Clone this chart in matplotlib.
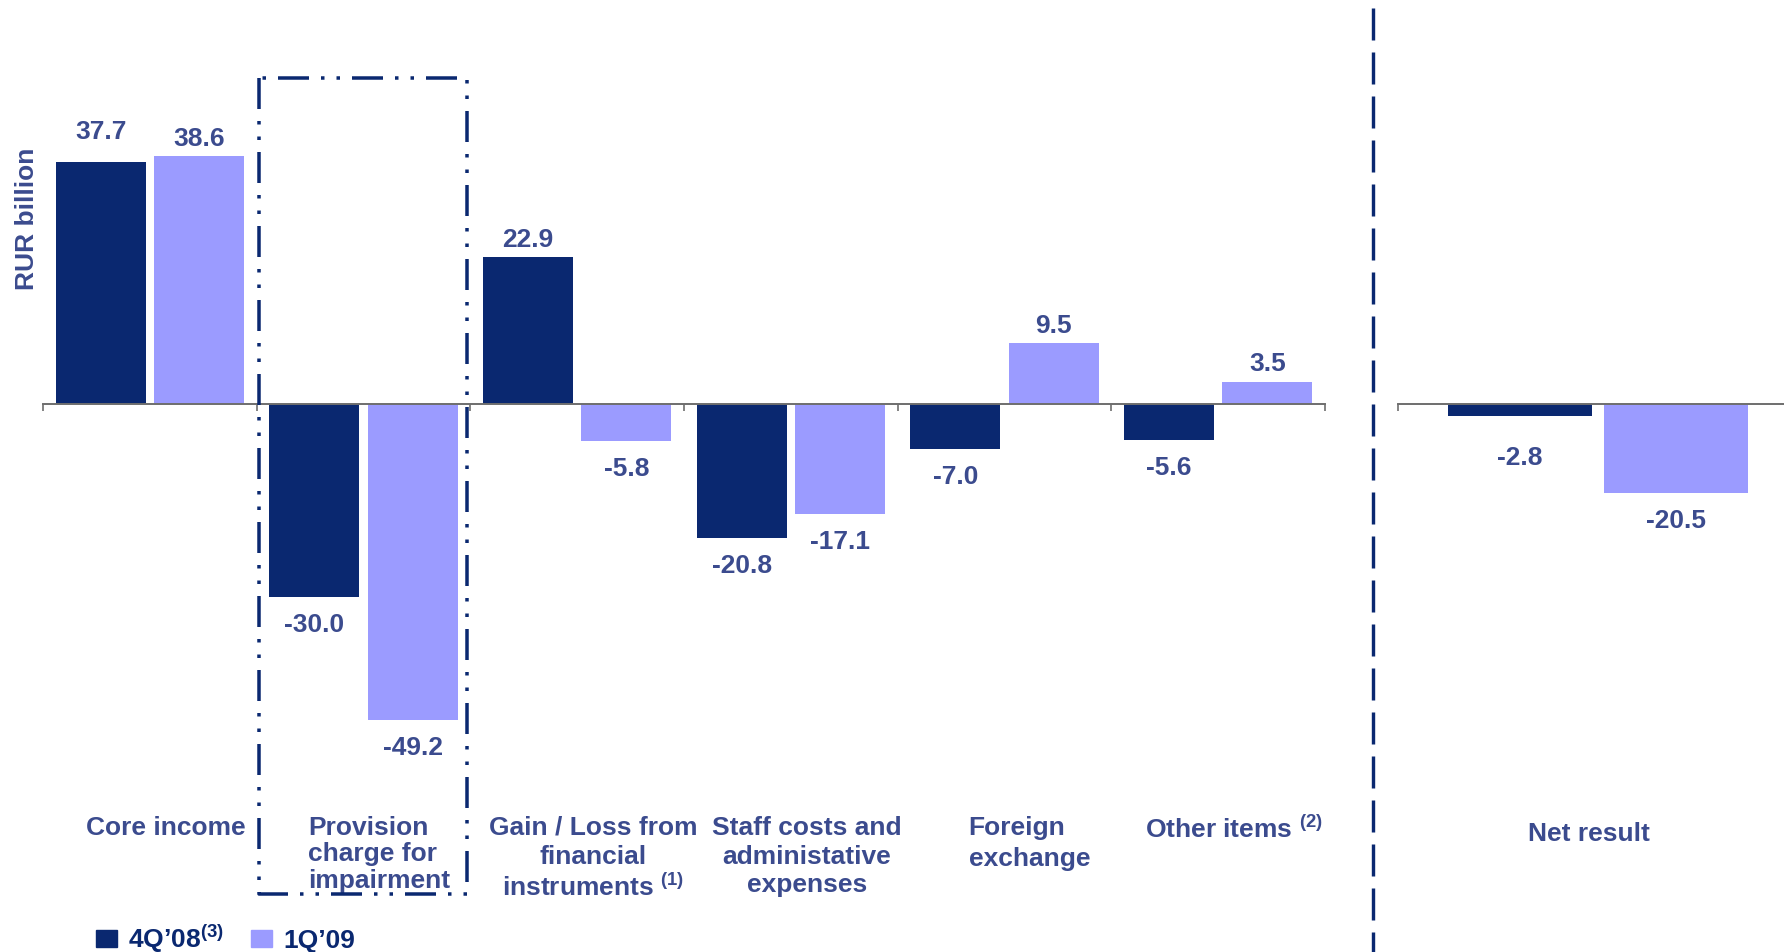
import matplotlib
matplotlib.use("Agg")
import matplotlib.pyplot as plt
from matplotlib.lines import Line2D
from matplotlib.patches import Rectangle

# ---- data ----
categories = ['Core income',
              'Provision\ncharge for\nimpairment',
              'Gain / Loss from\nfinancial\ninstruments $^{(1)}$',
              'Staff costs and\nadministative\nexpenses',
              'Foreign\nexchange',
              'Other items $^{(2)}$']
q4_08 = [37.7, -30.0, 22.9, -20.8, -7.0, -5.6]
q1_09 = [38.6, -49.2, -5.8, -17.1, 9.5, 3.5]
net_category = ['Net result']
net_q4_08 = [-2.8]
net_q1_09 = [-20.5]
series_names = ['4Q\u201908$^{(3)}$', '1Q\u201909']
y_label = 'RUR billion'

# ---- style ----
plt.rcParams['font.family'] = ['Liberation Sans', 'DejaVu Sans']
plt.rcParams['font.weight'] = 'bold'
plt.rcParams['mathtext.fontset'] = 'custom'
plt.rcParams['mathtext.rm'] = 'Liberation Sans:bold'
plt.rcParams['mathtext.it'] = 'Liberation Sans:bold'
plt.rcParams['mathtext.bf'] = 'Liberation Sans:bold'
plt.rcParams['lines.scale_dashes'] = False

DARK = '#0A2870'
LIGHT = '#9B9BFF'
TXT = '#3B4B8E'
AXC = '#6E6E6E'
FS = 19

# label layout tweaks (points): extra vertical nudge for some value labels
label_nudge = {('main', 0, 0): 9, ('net', 0, 0): -10}
# per-category label layout: (multialignment, x offset pt, linespacing)
cat_layout = [('center', 11.5, 1.2), ('left', 11.5, 1.13), ('center', 11.5, 1.24),
              ('center', 11.5, 1.24), ('left', 18, 1.36), ('center', 11.5, 1.2)]

W, H = 1784, 953
fig = plt.figure(figsize=(W / 100, H / 100), dpi=100)

def fx(px):
    return px / W

def fy(py):
    return 1 - py / H

zero_px = 405

# main axes
ax = fig.add_axes([fx(43), 0, fx(1325) - fx(43), 1])
scale1 = 6.42
ax.set_ylim(-(H - zero_px) / scale1, zero_px / scale1)
ax.set_xlim(-0.5, len(categories) - 0.5)

# net axes
ax2 = fig.add_axes([fx(1398), 0, fx(1784) - fx(1398), 1])
scale2 = 4.35
ax2.set_ylim(-(H - zero_px) / scale2, zero_px / scale2)
ax2.set_xlim(-0.5, -0.5 + (1784 - 1398) / 400)

def setup(a, nticks):
    for s in ['top', 'right', 'left']:
        a.spines[s].set_visible(False)
    a.spines['bottom'].set_position(('data', 0))
    a.spines['bottom'].set_color(AXC)
    a.spines['bottom'].set_linewidth(1.4)
    a.spines['bottom'].set_zorder(3)
    a.set_yticks([])
    a.set_xticks([i - 0.5 for i in range(nticks)])
    a.tick_params(axis='x', direction='out', length=5, width=1.2, color=AXC,
                  labelbottom=False)
    a.patch.set_visible(False)

setup(ax, len(categories) + 1)
setup(ax2, 1)

def draw_group(a, key, cats, v1, v2, off, bw):
    xs = list(range(len(cats)))
    b1 = a.bar([x - off for x in xs], v1, bw, color=DARK, zorder=2)
    b2 = a.bar([x + off for x in xs], v2, bw, color=LIGHT, zorder=2)
    for si, (bars, vals) in enumerate(((b1, v1), (b2, v2))):
        for i, (b, v) in enumerate(zip(bars, vals)):
            cx = b.get_x() + b.get_width() / 2
            dy = 13 if v >= 0 else -19.5
            dy += label_nudge.get((key, si, i), 0)
            a.annotate(f'{v:.1f}', xy=(cx, v), xytext=(0, dy),
                       textcoords='offset points', ha='center', va='center',
                       fontsize=FS, fontweight='bold', color=TXT)
    return xs

draw_group(ax, 'main', categories, q4_08, q1_09, 0.23, 0.42)
draw_group(ax2, 'net', net_category, net_q4_08, net_q1_09, 0.196, 0.36)

# category labels
for i, lab in enumerate(categories):
    ma, dx, ls = cat_layout[i]
    ax.annotate(lab, xy=(i, fy(816)), xycoords=('data', 'figure fraction'),
                xytext=(dx, 0), textcoords='offset points',
                ha='center', va='top', multialignment=ma, linespacing=ls,
                fontsize=FS, fontweight='bold', color=TXT, annotation_clip=False)
for i, lab in enumerate(net_category):
    ax2.annotate(lab, xy=(i, fy(822)), xycoords=('data', 'figure fraction'),
                 xytext=(-6.5, 0), textcoords='offset points',
                 ha='center', va='top', fontsize=FS, fontweight='bold',
                 color=TXT, annotation_clip=False)

# y label
fig.text(fx(27), fy(219), y_label, rotation=90, ha='center', va='center',
         fontsize=FS, fontweight='bold', color=TXT)

# dash-dot-dot box around the provision category
px_pt = 0.72
box_x = [259, 259, 467, 467, 259]
box_y = [79, 895, 895, 79, 79]
fig.add_artist(Line2D([fx(x) for x in box_x], [fy(y) for y in box_y],
                      color=DARK, lw=3.5 * px_pt, solid_capstyle='butt',
                      dash_capstyle='butt',
                      linestyle=(0, (31 * px_pt, 12 * px_pt, 3.5 * px_pt, 12 * px_pt,
                                     3.5 * px_pt, 12 * px_pt))))

# dashed separator
fig.add_artist(Line2D([fx(1373), fx(1373)], [fy(9), fy(953)], color=DARK,
                      lw=3.4 * px_pt, dash_capstyle='butt',
                      linestyle=(0, (32 * px_pt, 12 * px_pt))))

# legend
leg_colors = [DARK, LIGHT]
leg_sq_x = [96, 251]
for name, c, sx in zip(series_names, leg_colors, leg_sq_x):
    fig.add_artist(Rectangle((fx(sx), fy(948)), fx(21), 17 / H, color=c,
                             transform=fig.transFigure))
    fig.text(fx(sx + 32), fy(948), name, ha='left', va='baseline',
             fontsize=FS, fontweight='bold', color=DARK)

fig.savefig('out.png', dpi=100)
